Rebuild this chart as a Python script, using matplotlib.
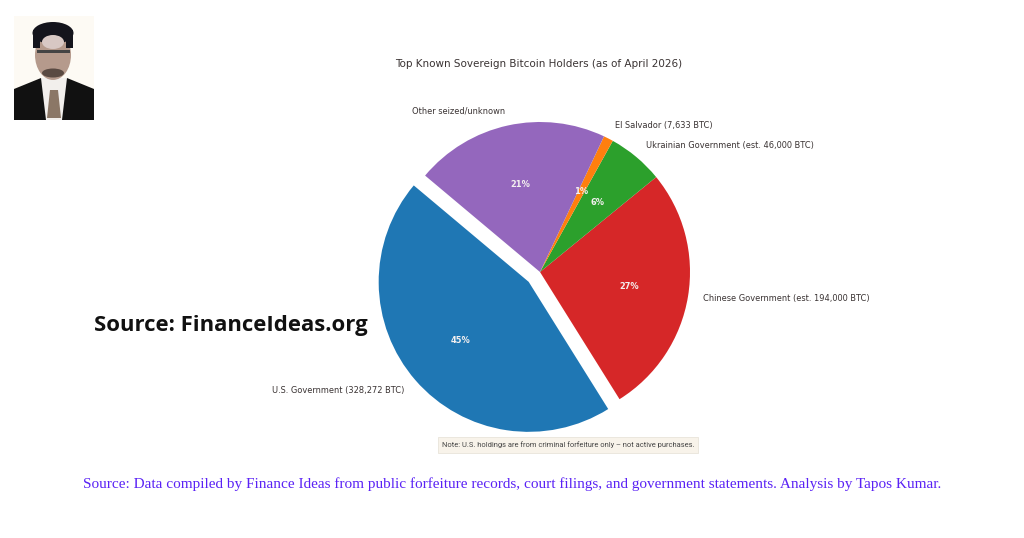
import matplotlib
matplotlib.use("Agg")
import matplotlib.pyplot as plt
from matplotlib.patches import Ellipse, Polygon, Rectangle

labels = ["U.S. Government (328,272 BTC)", "Chinese Government (est. 194,000 BTC)",
          "Ukrainian Government (est. 46,000 BTC)", "El Salvador (7,633 BTC)", "Other seized/unknown"]
values = [328272, 197000, 44000, 7633, 152500]
colors = ["#1f77b4", "#d62728", "#2ca02c", "#ff7f0e", "#9467bd"]
explode = [0.1, 0, 0, 0, 0]
title = "Top Known Sovereign Bitcoin Holders (as of April 2026)"
note = "Note: U.S. holdings are from criminal forfeiture only – not active purchases."
source = "Source: Data compiled by Finance Ideas from public forfeiture records, court filings, and government statements. Analysis by Tapos Kumar."
brand = "Source: FinanceIdeas.org"

W, H = 1024, 538
fig = plt.figure(figsize=(W / 100, H / 100), dpi=100, facecolor="white")

cx, cy, r = 540, 272, 150
half = r * 1.25
ax = fig.add_axes([(cx - half) / W, 1 - (cy + half) / H, 2 * half / W, 2 * half / H])
wedges, texts, autos = ax.pie(values, labels=labels, colors=colors, explode=explode,
                              autopct="%1.0f%%", startangle=140,
                              textprops={"fontsize": 5.92, "color": "#3a3333"})
for a in autos:
    a.set_color("#f4f0f0")
    a.set_fontweight("bold")
    a.set_fontsize(5.92)
ax.set_xlim(-1.25, 1.25)
ax.set_ylim(-1.25, 1.25)

fig.text(539 / W, 1 - 64 / H, title, ha="center", va="center", fontsize=7.45, color="#3a3333")
fig.text(568 / W, 1 - 445 / H, note, ha="center", va="center", fontsize=5.45,
         family="Roboto", color="#444444",
         bbox=dict(boxstyle="square,pad=0.55", facecolor="#f8f3ea", edgecolor="#e8e4da", linewidth=0.6))
fig.text(94 / W, 1 - 325 / H, brand, ha="left", va="center", fontsize=15.95,
         family="Open Sans", fontweight="bold", color="#111111")
fig.text(512.5 / W, 1 - 484 / H, source, ha="center", va="center", fontsize=10.97,
         family="Liberation Serif", color="#5a22f5")

# Portrait sketch
pa = fig.add_axes([14 / W, 1 - 120 / H, 80 / W, 104 / H])
pa.set_xlim(14, 94)
pa.set_ylim(120, 16)
pa.axis("off")
pa.add_patch(Rectangle((14, 16), 80, 104, facecolor="#fdfaf4", edgecolor="none"))
pa.add_patch(Polygon([(14, 120), (14, 89), (41, 78), (67, 78), (94, 89), (94, 120)], facecolor="#111111"))
pa.add_patch(Polygon([(41, 78), (67, 78), (62, 120), (46, 120)], facecolor="#f2efec"))
pa.add_patch(Polygon([(50, 90), (58, 90), (61, 118), (47, 118)], facecolor="#8b7766"))
pa.add_patch(Ellipse((53, 55), 36, 50, facecolor="#b59a8c"))
pa.add_patch(Ellipse((53, 33), 41, 22, facecolor="#14141c"))
pa.add_patch(Rectangle((33, 30), 7, 18, facecolor="#14141c"))
pa.add_patch(Rectangle((66, 30), 7, 18, facecolor="#14141c"))
pa.add_patch(Ellipse((53, 42), 22, 14, facecolor="#d8c8c4"))
pa.add_patch(Rectangle((37, 50), 33, 3, facecolor="#444444"))
pa.add_patch(Ellipse((53, 73), 22, 9, facecolor="#5a4a42"))

fig.savefig("out.png", dpi=100)
